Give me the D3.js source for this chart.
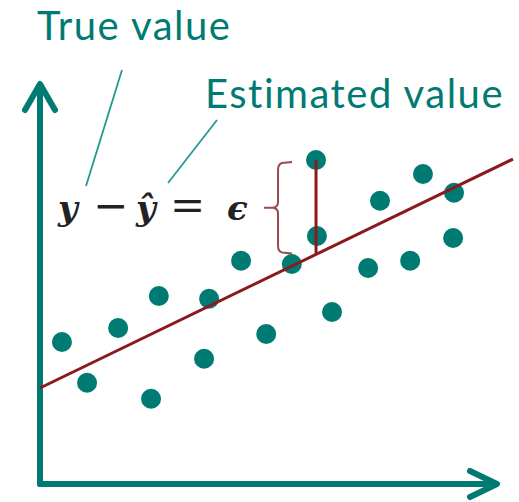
<!DOCTYPE html>
<html>
<head>
<meta charset="utf-8">
<script src="https://cdn.jsdelivr.net/npm/d3@7"></script>
<style>
  body { margin: 0; background: #fff; }
  svg { display: block; }
</style>
</head>
<body>
<div id="chart"></div>
<script>
// observed points (x, y in chart units, 0..100 on both axes)
var pointX = [4.8, 10.3, 17.1, 24.3, 26.0, 35.9, 37.0, 44.0, 49.5, 55.1, 60.4, 60.6, 63.9, 71.8, 74.4, 81.0, 83.8, 90.6, 90.4];
var pointY = [35.5, 25.3, 39.0, 21.3, 47.0, 31.3, 46.3, 55.8, 37.5, 55.0, 81.0, 62.0, 43.0, 54.0, 70.8, 55.8, 77.5, 72.8, 61.5];

// fitted line: y = intercept + slope * x, drawn over lineRange
var intercept = 24.0;
var slope = 0.553;
var lineRange = [0, 103.5];

// the point whose residual is highlighted
var residualIndex = 10;

var labels = ["True value", "Estimated value"];
var formula = ["y", "\u2212", "y\u0302", "=", "\u03f5"];

var width = 519, height = 502;
var teal = "#007b73";
var red = "#8b1a1f";

var svg = d3.select("#chart").append("svg")
    .attr("width", width)
    .attr("height", height);

var x = d3.scaleLinear().domain([0, 100]).range([40, 497]);
var y = d3.scaleLinear().domain([0, 100]).range([484, 84]);

// axes drawn as arrows
var axisStyle = function (sel) {
    sel.attr("fill", "none")
        .attr("stroke", teal)
        .attr("stroke-width", 6)
        .attr("stroke-linecap", "round")
        .attr("stroke-linejoin", "round");
};

svg.append("path")
    .attr("d", d3.line()([[x(0), y(0)], [x(0), y(100) + 2]]))
    .call(axisStyle);
svg.append("path")
    .attr("d", d3.line()([[x(0) - 15, y(100) + 26], [x(0), y(100)], [x(0) + 15, y(100) + 26]]))
    .call(axisStyle);

svg.append("path")
    .attr("d", d3.line()([[x(0), y(0)], [x(100) - 2, y(0)]]))
    .call(axisStyle);
svg.append("path")
    .attr("d", d3.line()([[x(100) - 27, y(0) - 13], [x(100), y(0)], [x(100) - 27, y(0) + 13]]))
    .call(axisStyle);

// points
svg.append("g")
    .selectAll("circle")
    .data(pointX)
    .enter()
    .append("circle")
    .attr("cx", d => x(d))
    .attr("cy", (d, i) => y(pointY[i]))
    .attr("r", 10)
    .attr("fill", teal);

// regression line
svg.append("path")
    .attr("d", d3.line()(lineRange.map(v => [x(v), y(intercept + slope * v)])))
    .attr("stroke", red)
    .attr("stroke-width", 3)
    .attr("fill", "none");

// residual
var rx = pointX[residualIndex], ry = pointY[residualIndex];
var fitted = intercept + slope * rx;
svg.append("line")
    .attr("x1", x(rx)).attr("x2", x(rx))
    .attr("y1", y(ry)).attr("y2", y(fitted))
    .attr("stroke", red)
    .attr("stroke-width", 3);

// curly brace next to the residual
var bx = x(rx) - 38, bTop = y(ry) + 2, bBot = y(fitted) - 1, bMid = (bTop + bBot) / 2;
var brace = d3.path();
brace.moveTo(bx + 14, bTop);
brace.lineTo(bx + 4, bTop + 1);
brace.quadraticCurveTo(bx, bTop + 2, bx, bTop + 8);
brace.lineTo(bx, bMid - 6);
brace.quadraticCurveTo(bx, bMid, bx - 6, bMid);
brace.lineTo(bx - 14, bMid);
brace.moveTo(bx - 6, bMid);
brace.quadraticCurveTo(bx, bMid, bx, bMid + 6);
brace.lineTo(bx, bBot - 8);
brace.quadraticCurveTo(bx, bBot - 2, bx + 4, bBot - 1);
brace.lineTo(bx + 14, bBot);
svg.append("path")
    .attr("d", brace.toString())
    .attr("fill", "none")
    .attr("stroke", "#9a4a4e")
    .attr("stroke-width", 2);

// formula, one piece per symbol; operators set larger and upright
var formulaX = [58, 93, 136, 170, 227];
var isOperator = [false, true, false, true, false];
svg.append("text")
    .attr("y", 220)
    .attr("font-family", "DejaVu Serif")
    .attr("font-weight", "bold")
    .attr("fill", "#222")
    .selectAll("tspan")
    .data(formula)
    .enter()
    .append("tspan")
    .attr("x", (d, i) => formulaX[i])
    .attr("font-size", (d, i) => isOperator[i] ? 42 : 34)
    .attr("font-weight", (d, i) => isOperator[i] ? "normal" : "bold")
    .attr("font-style", (d, i) => isOperator[i] ? "normal" : "italic")
    .text(d => d);

// labels with leader lines
var labelPos = [[37, 40], [205, 108]];
var leaders = [[[122, 70], [86, 186]], [[217, 120], [168, 183]]];

svg.append("g")
    .selectAll("text")
    .data(labels)
    .enter()
    .append("text")
    .attr("x", (d, i) => labelPos[i][0])
    .attr("y", (d, i) => labelPos[i][1])
    .attr("font-family", "Lato")
    .attr("font-size", 40)
    .attr("letter-spacing", 1.5)
    .attr("fill", teal)
    .text(d => d);

svg.append("g")
    .selectAll("path")
    .data(leaders)
    .enter()
    .append("path")
    .attr("d", d => d3.line()(d))
    .attr("stroke", "#1f9a92")
    .attr("stroke-width", 1.8)
    .attr("fill", "none");
</script>
</body>
</html>
